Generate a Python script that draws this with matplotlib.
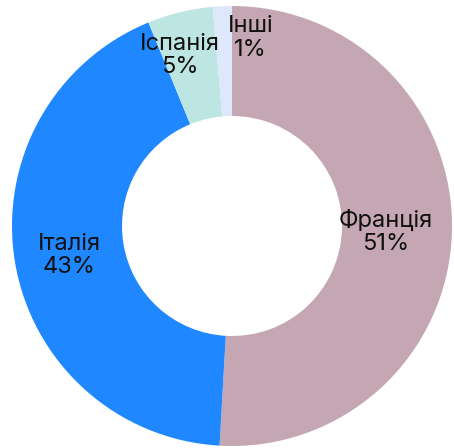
import matplotlib
matplotlib.use("Agg")
import matplotlib.pyplot as plt
import numpy as np

categories = ["Франція", "Італія", "Іспанія", "Інші"]
values = [50.9, 42.9, 4.8, 1.4]
colors = ["#C4A7B3", "#1F87FF", "#BDE6E3", "#DDE8FA"]
label_radius = [0.70, 0.75, 0.82, 0.87]
label_angle_shift = [0, 0, 3, -8]

plt.rcParams['font.family'] = ['Inter', 'DejaVu Sans']

fig = plt.figure(figsize=(4.54, 4.48), dpi=100)
ax = fig.add_axes([12/454, 2/448, 440/454, 440/448])
wedges, _ = ax.pie(values, colors=colors, startangle=90, counterclock=False,
                   radius=1.0, wedgeprops=dict(width=0.5, linewidth=0))
total = sum(values)
for w, cat, v, r, sh in zip(wedges, categories, values, label_radius, label_angle_shift):
    th = np.deg2rad((w.theta1 + w.theta2) / 2 + sh)
    ax.text(r * np.cos(th), r * np.sin(th) - 0.01, f"{cat}\n{round(v / total * 100)}%",
            ha="center", va="center", fontsize=17, color="#111111", linespacing=1.1)
ax.set_xlim(-1, 1)
ax.set_ylim(-1, 1)
ax.set_aspect("equal")
ax.axis("off")
fig.savefig("out.png", dpi=100)
